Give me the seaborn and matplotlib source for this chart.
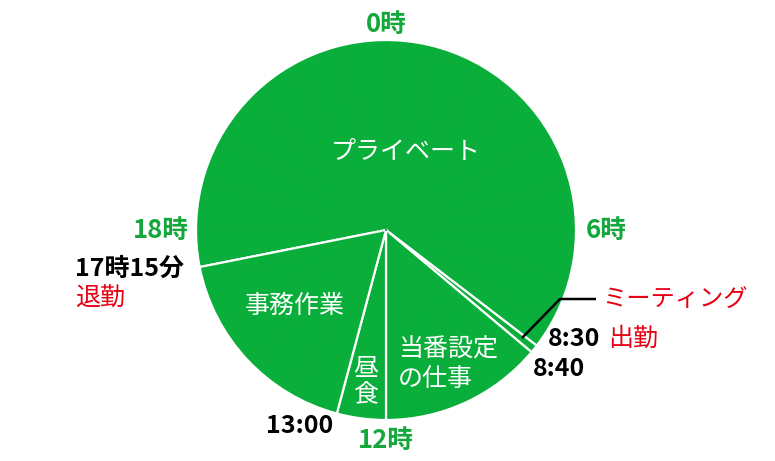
import numpy as np
import matplotlib
matplotlib.use("Agg")
import matplotlib.pyplot as plt
import seaborn as sns

# 1日の時間配分 (24時間円グラフ)
segments = ["プライベート", "ミーティング", "当番設定の仕事", "昼食", "事務作業"]
seg_start = [17.25, 8.5, 8 + 40 / 60, 12.0, 13.0]   # 各区間の開始時刻 (時)
hour_marks = [0, 6, 12, 18]
hour_labels = ["0時", "6時", "12時", "18時"]

green = "#0AAE3B"
label_green = "#14A83C"
red = "#E60012"

sns.set_theme(style="white")
plt.rcParams["font.family"] = ["Noto Sans CJK JP", "DejaVu Sans"]

durations = [(seg_start[(i + 1) % len(seg_start)] - s) % 24 for i, s in enumerate(seg_start)]

W, H = 775, 461
CX, CY, R = 386, 230, 190

fig = plt.figure(figsize=(W / 100, H / 100), dpi=100)
ax = fig.add_axes([0, 0, 1, 1])
ax.axis("off")


def px(x, y):
    # ピクセル位置 -> データ座標
    return (x - CX) / R, (CY - y) / R


def hour_angle(h):
    return np.deg2rad(90 - 15 * h)


# 円グラフ本体 (時計回り, 17:15 から開始)
ax.pie(durations, colors=[green] * len(durations), startangle=90 - 15 * seg_start[0],
       counterclock=False, radius=1, center=(0, 0), frame=False,
       wedgeprops=dict(edgecolor="white", linewidth=1.6))
ax.set_xlim(-CX / R, (W - CX) / R)
ax.set_ylim(-(H - CY) / R, CY / R)
ax.set_aspect("auto")

# 1時間ごとの点線 (薄く)
for h in range(24):
    if h in (12, 13):
        continue
    a = hour_angle(h)
    ax.plot([0, np.cos(a)], [0, np.sin(a)], linestyle=(0, (1, 2)), color="#078a2e",
            alpha=0.22, lw=0.8, zorder=3)

# 時刻ラベル (0時, 6時, 12時, 18時)
hour_pos = {0: (386, 24), 6: (606, 230), 12: (386, 440), 18: (161, 230)}
for h, lab in zip(hour_marks, hour_labels):
    ax.text(*px(*hour_pos[h]), lab, color=label_green, fontsize=18.5, fontweight="bold",
            ha="center", va="center")

# 区間内ラベル
wt = dict(color="white", fontsize=18, ha="center", va="center")
ax.text(*px(406, 152), segments[0], **wt)
ax.text(*px(295, 306), segments[4], **wt)
ax.text(*px(366, 382), "\n".join(segments[3]), linespacing=1.0, **wt)
ax.text(*px(398, 364), "当番設定\nの仕事", color="white", fontsize=18, ha="left",
        va="center", linespacing=1.15)

# 境界の時刻
bt = dict(color="black", fontsize=18, fontweight="bold", va="center")
ax.text(*px(75, 269), "17時15分", ha="left", **bt)
ax.text(*px(75, 299), "退勤", color=red, fontsize=18, ha="left", va="center")
ax.text(*px(333, 426), "13:00", ha="right", **bt)
ax.text(*px(548, 339), "8:30", ha="left", **bt)
ax.text(*px(608, 339), "出勤", color=red, fontsize=18, ha="left", va="center")
ax.text(*px(533, 369), "8:40", ha="left", **bt)

# ミーティングの引き出し線
lx, ly = zip(px(522, 338), px(560, 299), px(596, 299))
ax.plot(lx, ly, color="black", lw=1.8, zorder=5, solid_capstyle="butt")
ax.text(*px(602, 299), segments[1], color=red, fontsize=17.5, ha="left", va="center")

fig.savefig("out.png", dpi=100)
